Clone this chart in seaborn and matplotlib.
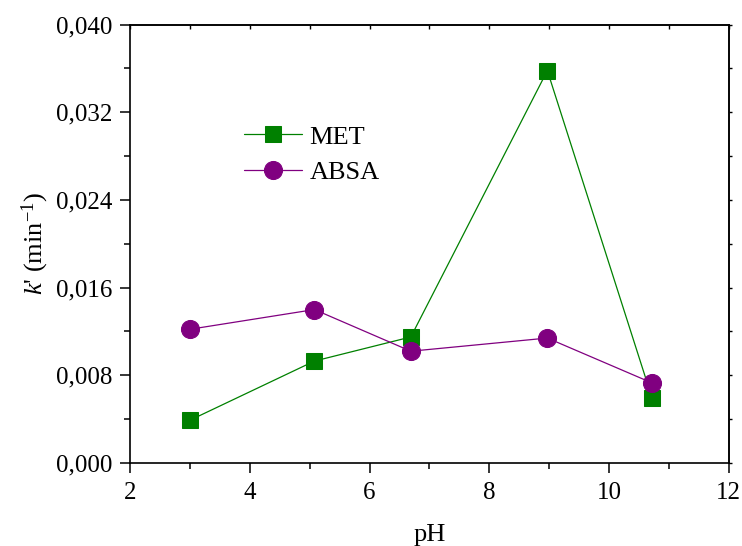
import numpy as np
import pandas as pd
import matplotlib
matplotlib.use("Agg")
import matplotlib.pyplot as plt
from matplotlib.ticker import MultipleLocator
import seaborn as sns

ph_met = [3.0, 5.08, 6.69, 8.97, 10.72]
k_met = [0.0039, 0.0093, 0.0115, 0.0358, 0.0059]
ph_absa = [3.0, 5.08, 6.69, 8.97, 10.72]
k_absa = [0.0122, 0.0140, 0.0102, 0.0114, 0.0073]

y_ticks = [0.000, 0.008, 0.016, 0.024, 0.032, 0.040]
y_labels = ["0,000", "0,008", "0,016", "0,024", "0,032", "0,040"]
x_ticks = [2, 4, 6, 8, 10, 12]

df = pd.concat([
    pd.DataFrame({"pH": ph_met, "k": k_met, "series": "MET"}),
    pd.DataFrame({"pH": ph_absa, "k": k_absa, "series": "ABSA"}),
])

sns.set_theme(style="ticks")
plt.rcParams["font.family"] = ["Liberation Serif", "DejaVu Serif"]
plt.rcParams["mathtext.fontset"] = "custom"
plt.rcParams["mathtext.rm"] = "Liberation Serif"
plt.rcParams["mathtext.it"] = "Liberation Serif:italic"
plt.rcParams["text.color"] = "black"
plt.rcParams["axes.labelcolor"] = "black"

fig = plt.figure(figsize=(7.42, 5.46), dpi=100)
ax = fig.add_axes([0.1752, 0.152, 0.807, 0.803])

colors = {"MET": "#008000", "ABSA": "#800080"}
markers = {"MET": "s", "ABSA": "o"}
sizes = {"MET": 11.5, "ABSA": 13}
for name in ["MET", "ABSA"]:
    sub = df[df["series"] == name]
    sns.lineplot(data=sub, x="pH", y="k", ax=ax, color=colors[name],
                 marker=markers[name], markersize=sizes[name],
                 markeredgecolor=colors[name], linewidth=0.9, label=name,
                 sort=False)

ax.set_xlim(2, 12)
ax.set_ylim(0, 0.040)
ax.set_xticks(x_ticks)
ax.set_xticklabels([str(t) for t in x_ticks])
ax.set_yticks(y_ticks)
ax.set_yticklabels(y_labels)
ax.xaxis.set_minor_locator(MultipleLocator(1))
ax.yaxis.set_minor_locator(MultipleLocator(0.004))
ax.tick_params(which="major", direction="out", length=7, width=1.1,
               labelsize=18, colors="black")
ax.tick_params(which="minor", direction="out", length=4, width=1.1,
               colors="black")
ax.tick_params(axis="x", which="major", pad=7)
ax.tick_params(axis="y", which="major", pad=6)

for s in ax.spines.values():
    s.set_linewidth(1.2)
    s.set_color("black")

# small mirrored ticks on top and right
top = ax.secondary_xaxis("top")
top.set_xticks(x_ticks)
top.xaxis.set_minor_locator(MultipleLocator(1))
top.tick_params(which="both", direction="in", labeltop=False, width=1.0,
                length=3, colors="black")
right = ax.secondary_yaxis("right")
right.set_yticks(y_ticks)
right.yaxis.set_minor_locator(MultipleLocator(0.004))
right.tick_params(which="both", direction="out", labelright=False, width=1.0,
                  length=2, colors="black")

ax.set_xlabel("pH", fontsize=19, labelpad=14)
ax.set_ylabel(r"$k$' (min$^{\mathrm{-1}}$)", fontsize=19, labelpad=3)

ax.legend(loc="upper left", bbox_to_anchor=(0.15, 0.825), frameon=False,
          fontsize=19, handlelength=2.2, handletextpad=0.3, labelspacing=0.45)

fig.savefig("out.png", dpi=100)
